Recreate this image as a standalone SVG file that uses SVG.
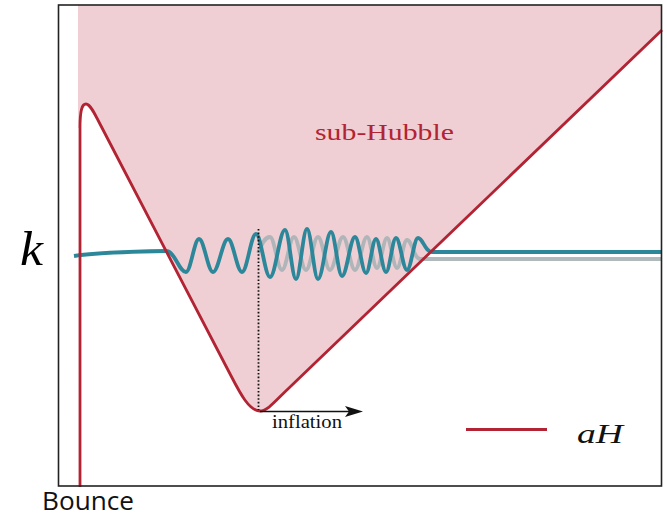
<svg xmlns="http://www.w3.org/2000/svg" width="667" height="516" viewBox="0 0 667 516">
<style>
.serif{font-family:"Liberation Serif","Times New Roman",serif}
.red{stroke:#b22333;fill:none;stroke-width:2.8;stroke-linejoin:round}
.teal{stroke:#2b8799;fill:none;stroke-width:3.8;stroke-linejoin:round}
.gray{stroke:#a7b1b5;fill:none;stroke-width:3.8;stroke-linejoin:round;opacity:0.9}
</style>
<rect x="0" y="0" width="667" height="516" fill="#ffffff"/>
<g id="subhubble-region">
<path d="M78,5 L78,128 L80,128 C80,110 82,104 86,104 C90,104 94,112 100,124 L228,370 C238,389 248,411 260,411 C268,411 276,400 290,387 L662,30 L662,5 Z" fill="#efcfd3"/>
</g>
<g id="modes">
<path class="gray" d="M258,253 C262,243 265,237 270,237 C274.4,237 277.6,270 282,270 C286.4,270 289.6,237 294,237 C298.4,237 301.6,270 306,270 C310.4,270 313.6,237 318,237 C322.4,237 325.6,270 330,270 C334.7,270 338.3,237 343,237 C347.4,237 350.6,270 355,270 C359.4,270 362.6,237 367,237 C370.6,237 373.4,268 377,268 C380.6,268 383.4,238 387,238 C390.6,238 393.4,268 397,268 C400.6,268 403.4,240 407,240 C412,240 414,259 420,259 L662,259"/>
<path class="teal" d="M74,256 Q100,252 166,251 C175,251 179,272 186,272 C190.7,272 194.3,239 199,239 C204.1,239 207.9,272 213,272 C218.5,272 222.5,239 228,239 C233.1,239 236.9,272 242,272 C247.1,272 250.9,234 256,234 C261.1,234 264.9,277 270,277 C275.5,277 279.5,230 285,230 C289,230 292,279 296,279 C300,279 303,229 307,229 C311,229 314,279 318,279 C322.7,279 326.3,232 331,232 C335,232 338,276 342,276 C346.7,276 350.3,237 355,237 C359,237 362,273 366,273 C369.6,273 372.4,239 376,239 C379.6,239 382.4,272 386,272 C389.6,272 392.4,238 396,238 C400,238 403,270 407,270 C411,270 414,238 418,238 C423,238 425,252 432,252 L662,252"/>
</g>
<g id="aH-curve">
<path class="red" d="M80,487 L80,128 C80,110 82,104 86,104 C90,104 94,112 100,124 L228,370 C238,389 248,411 260,411 C268,411 276,400 290,387 L662,30"/>
</g>
<g id="inflation-marker">
<line x1="258.5" y1="229" x2="258.5" y2="410" stroke="#111" stroke-width="1.8" stroke-dasharray="1.6,2"/>
<line x1="260" y1="411.5" x2="350" y2="411.5" stroke="#111" stroke-width="1.6"/>
<polygon points="345,406 363,411.5 345,417 349,411.5" fill="#111"/>
<text class="serif" x="272" y="428" font-size="18" textLength="70" lengthAdjust="spacingAndGlyphs" fill="#111">inflation</text>
</g>
<g id="frame">
<rect x="58.5" y="5" width="603" height="481" fill="none" stroke="#222" stroke-width="1.6"/>
</g>
<g id="labels">
<text class="serif" x="315" y="140" font-size="23" textLength="139" lengthAdjust="spacingAndGlyphs" fill="#b22333">sub-Hubble</text>
<text class="serif" x="20" y="265" font-size="48" font-style="italic" textLength="23" lengthAdjust="spacingAndGlyphs" fill="#000">k</text>
<text x="42" y="510" font-family="'Open Sans','Noto Sans',sans-serif" font-size="25" textLength="92" lengthAdjust="spacingAndGlyphs" fill="#111">Bounce</text>
</g>
<g id="legend">
<line x1="466" y1="429.5" x2="547" y2="429.5" stroke="#b22333" stroke-width="3"/>
<text class="serif" x="577" y="443" font-size="28" font-style="italic" textLength="46" lengthAdjust="spacingAndGlyphs" fill="#111">aH</text>
</g>
</svg>
